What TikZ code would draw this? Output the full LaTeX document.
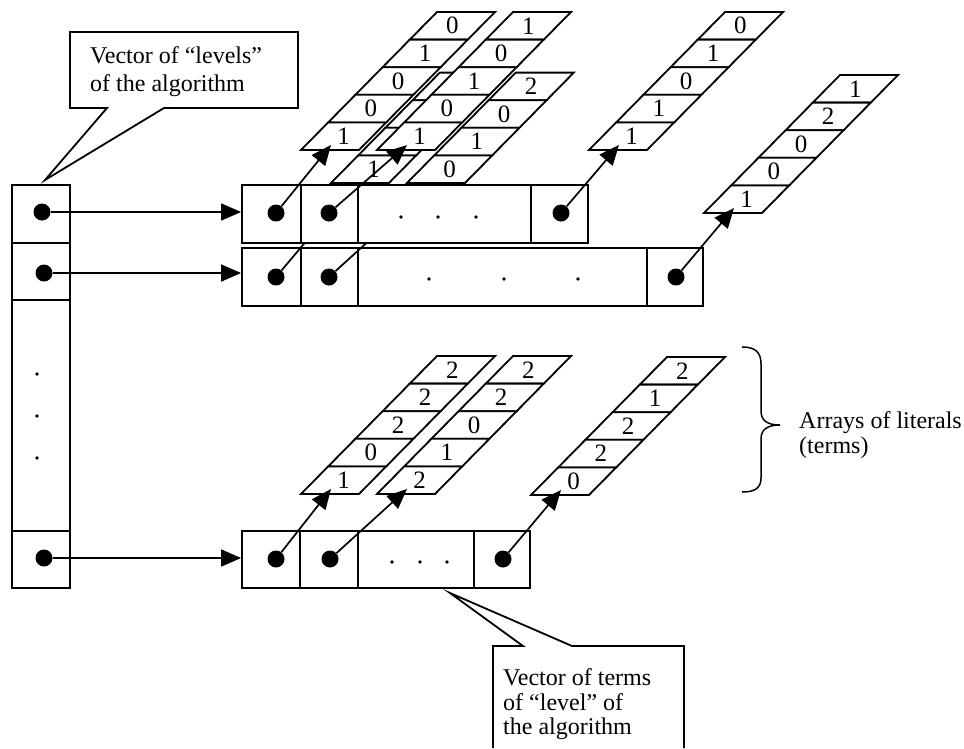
\documentclass[tikz,border=0pt]{standalone}
\usepackage{fontspec}
\setmainfont{Liberation Serif}
\usetikzlibrary{arrows.meta}

% slanted array of literals: name, x and y of lower left corner, cells, values from the top
\newcommand{\litstack}[5]{%
  \foreach \v [count=\j] in {#5} {%
    \pgfmathsetmacro{\k}{#4-\j}%
    \draw[cellline,fill=white] (#2+\k*27.2,#3-\k*27.6) -- ++(58,0) -- ++(27.2,-27.6) -- ++(-58,0) -- cycle;
    \node[digit] (#1-\j) at (#2+\k*27.2+42.6,#3-\k*27.6-13.8) {\v};
  }%
  \coordinate (#1) at (#2+30,#3-5);%
}

\begin{document}
\begin{tikzpicture}[x=1pt,y=-1pt,
  cellline/.style={line width=1.8pt},
  cellbox/.style={draw,line width=1.8pt,fill=white,inner sep=0pt,minimum height=58pt},
  ptrdot/.style={circle,fill=black,inner sep=0pt,minimum size=17pt},
  smalldot/.style={circle,fill=black,inner sep=0pt,minimum size=3.8pt},
  digit/.style={inner sep=0pt,font=\fontsize{25}{28}\selectfont},
  ptr/.style={line width=1.7pt,-{Triangle[length=20pt,width=17pt]}},
  note/.style={align=left,inner sep=0pt,anchor=north west}]
\useasboundingbox (0,0) rectangle (964,748);

% arrays behind the first level
\litstack{ap}{331}{183}{4}{{},{},{},1}
\litstack{c}{407}{183}{4}{2,0,1,0}

% second level
\node[cellbox,minimum width=59pt] (r2c1) at (271.5,277) {};
\node[cellbox,minimum width=57pt] (r2c2) at (329.5,277) {};
\node[cellbox,minimum width=289pt] (r2c3) at (502.5,277) {};
\node[cellbox,minimum width=56pt] (r2c4) at (675,277) {};
\node[ptrdot] (r2p1) at (276,277) {};
\node[ptrdot] (r2p2) at (329,277) {};
\node[ptrdot] (r2p4) at (676,277) {};
\node[smalldot] (r2dot1) at (429,279) {};
\node[smalldot] (r2dot2) at (504,279) {};
\node[smalldot] (r2dot3) at (578,279) {};
\coordinate (apfoot) at (351,188);
\coordinate (cfoot) at (427,188);
\draw[ptr] (r2p1) -- (apfoot);
\draw[ptr] (r2p2) -- (cfoot);

% arrays of the first level
\litstack{a}{301}{150}{5}{0,1,0,0,1}
\litstack{b}{377}{150}{5}{1,0,1,0,1}
\litstack{d}{589}{150}{5}{0,1,0,1,1}
\litstack{e}{704}{213}{5}{1,2,0,0,1}

% first level
\node[cellbox,minimum width=59pt] (r1c1) at (271.5,214) {};
\node[cellbox,minimum width=57pt] (r1c2) at (329.5,214) {};
\node[cellbox,minimum width=173pt] (r1c3) at (444.5,214) {};
\node[cellbox,minimum width=57pt] (r1c4) at (559.5,214) {};
\node[ptrdot] (r1p1) at (276,213) {};
\node[ptrdot] (r1p2) at (329,213) {};
\node[ptrdot] (r1p4) at (561,213) {};
\node[smalldot] (r1dot1) at (401,217) {};
\node[smalldot] (r1dot2) at (438,217) {};
\node[smalldot] (r1dot3) at (476,217) {};
\draw[ptr] (r1p1) -- (a);
\draw[ptr] (r1p2) -- (b);
\draw[ptr] (r1p4) -- (d);
\draw[ptr] (r2p4) -- (e);

% last level
\litstack{f}{301}{494}{5}{2,2,2,0,1}
\litstack{g}{377}{494}{5}{2,2,0,1,2}
\litstack{h}{531}{495}{5}{2,1,2,2,0}
\node[cellbox,minimum width=58pt,minimum height=57pt] (r3c1) at (271,559.5) {};
\node[cellbox,minimum width=58pt,minimum height=57pt] (r3c2) at (329,559.5) {};
\node[cellbox,minimum width=116pt,minimum height=57pt] (r3c3) at (416,559.5) {};
\node[cellbox,minimum width=56pt,minimum height=57pt] (r3c4) at (502,559.5) {};
\node[ptrdot] (r3p1) at (276,559) {};
\node[ptrdot] (r3p2) at (330,559) {};
\node[ptrdot] (r3p4) at (503,559) {};
\node[smalldot] (r3dot1) at (392,562) {};
\node[smalldot] (r3dot2) at (420,562) {};
\node[smalldot] (r3dot3) at (447,562) {};
\draw[ptr] (r3p1) -- (f);
\draw[ptr] (r3p2) -- (g);
\draw[ptr] (r3p4) -- (h);

% vector of levels
\node[cellbox,minimum width=58pt] (lv1) at (41,214) {};
\node[cellbox,minimum width=58pt,minimum height=57pt] (lv2) at (41,271.5) {};
\node[cellbox,minimum width=58pt,minimum height=231pt] (lv3) at (41,415.5) {};
\node[cellbox,minimum width=58pt,minimum height=57pt] (lv4) at (41,559.5) {};
\node[ptrdot] (lvp1) at (42,212) {};
\node[ptrdot] (lvp2) at (44,273) {};
\node[ptrdot] (lvp4) at (44,558) {};
\node[smalldot] (lvdot1) at (37,374) {};
\node[smalldot] (lvdot2) at (37,416) {};
\node[smalldot] (lvdot3) at (37,458) {};
\draw[ptr] (lvp1) -- (lvp1 -| r1c1.west);
\draw[ptr] (lvp2) -- (lvp2 -| r2c1.west);
\draw[ptr] (lvp4) -- (lvp4 -| r3c1.west);

% callouts
\draw[cellline,fill=white] (70,32) -- (298,32) -- (298,108) -- (164,108) -- (45,180) -- (107,108) -- (70,108) -- cycle;
\node[note,font=\fontsize{24}{28}\selectfont] (levnote) at (90,46.5) {Vector of “levels”\\of the algorithm};
\draw[cellline,fill=white] (493,748) -- (493,646) -- (523,646) -- (450,593) -- (572,646) -- (684,646) -- (684,748);
\node[note,font=\fontsize{24}{24.5}\selectfont] (termnote) at (503,668.5) {Vector of terms\\of “level” of\\the algorithm};

% brace
\draw[line width=1.5pt] (742,347) .. controls (755,347) and (761,352) .. (761,364) -- (761,411)
  .. controls (761,421) and (768,425) .. (780,425) .. controls (768,425) and (761,429) .. (761,439)
  -- (761,478) .. controls (761,488) and (755,492) .. (742,492);
\node[note,font=\fontsize{24}{24.5}\selectfont] (litnote) at (799,411.5) {Arrays of literals\\(terms)};
\end{tikzpicture}
\end{document}
